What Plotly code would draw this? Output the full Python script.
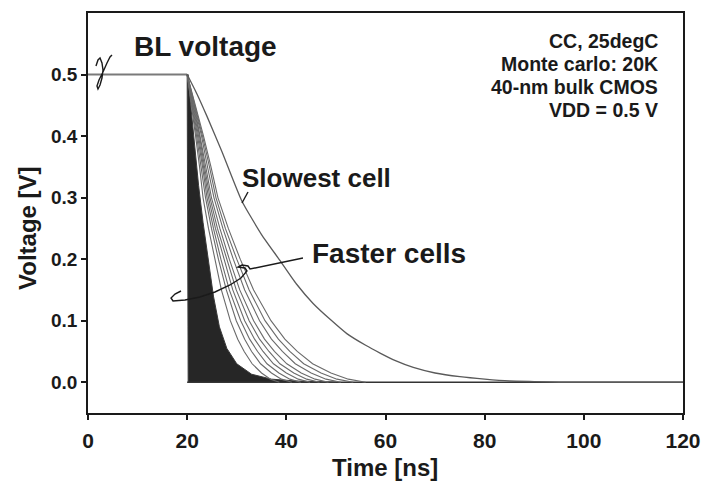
import plotly.graph_objects as go

# ---------------- data ----------------
bl_time = [0, 20]
bl_volt = [0.5, 0.5]

baseline_time = [20, 120]
baseline_volt = [0.0, 0.0]

slow_time = [20, 22, 24, 27, 31, 35, 38.7, 42, 45.4, 49, 52.2, 56, 59, 62, 65.6, 70, 75, 80, 85, 90, 95, 120]
slow_volt = [0.5, 0.468, 0.432, 0.375, 0.295, 0.24, 0.198, 0.16, 0.128, 0.101, 0.079, 0.060,
             0.047, 0.035, 0.024, 0.015, 0.009, 0.005, 0.002, 0.001, 0.0, 0.0]

fast_levels = [0.5, 0.45, 0.4, 0.35, 0.3, 0.25, 0.2, 0.15, 0.1, 0.07, 0.05, 0.03, 0.015, 0.005, 0.0]
fast_cell_1 = [20, 20.9, 21.7, 22.5, 23.2, 24.3, 25.6, 26.9, 28.7, 30.2, 31.5, 33.1, 35.0, 36.8, 38.6]
fast_cell_2 = [20, 21.0, 21.9, 22.8, 23.7, 24.9, 26.3, 27.9, 29.9, 31.6, 33.0, 34.8, 37.0, 39.0, 41.1]
fast_cell_3 = [20, 21.1, 22.1, 23.1, 24.0, 25.3, 26.8, 28.5, 30.8, 32.6, 34.2, 36.1, 38.5, 40.7, 42.9]
fast_cell_4 = [20, 21.2, 22.3, 23.3, 24.3, 25.7, 27.4, 29.2, 31.6, 33.6, 35.3, 37.4, 40.0, 42.4, 44.8]
fast_cell_5 = [20, 21.3, 22.5, 23.5, 24.6, 26.1, 28.0, 29.9, 32.5, 34.6, 36.5, 38.7, 41.5, 44.1, 46.7]
fast_cell_6 = [20, 21.4, 22.6, 23.8, 24.9, 26.6, 28.5, 30.6, 33.4, 35.6, 37.6, 40.1, 43.0, 45.8, 48.5]
fast_cell_7 = [20, 21.5, 22.9, 24.1, 25.4, 27.2, 29.3, 31.6, 34.6, 37.0, 39.2, 41.8, 45.0, 48.0, 51.0]
fast_cell_8 = [20, 21.6, 23.1, 24.5, 25.8, 27.7, 30.0, 32.5, 35.7, 38.4, 40.7, 43.5, 47.0, 50.2, 53.5]
fast_cell_9 = [20, 21.7, 23.3, 24.8, 26.2, 28.3, 30.7, 33.4, 36.9, 39.7, 42.2, 45.3, 49.0, 52.5, 56.0]

# outline of the dense black bundle of Monte Carlo curves
bundle_time = [20.0, 20.2, 20.6, 21.5, 22.3, 23.2, 24.2, 25.3, 26.5, 28, 30, 33, 37, 42, 50, 20.2, 20.0]
bundle_volt = [0.5, 0.5, 0.46, 0.38, 0.32, 0.26, 0.20, 0.14, 0.09, 0.055, 0.03, 0.013, 0.005, 0.002, 0.0, 0.0, 0.5]

x_ticks = [0, 20, 40, 60, 80, 100, 120]
y_ticks = [0.0, 0.1, 0.2, 0.3, 0.4, 0.5]

# ---------------- figure ----------------
FONT = "Liberation Sans, Arial, sans-serif"
INK = "#1a1a1a"
fig = go.Figure()

fig.add_trace(go.Scatter(x=baseline_time, y=baseline_volt, mode="lines",
                         line=dict(color="#333333", width=1.6), hoverinfo="skip"))
fig.add_trace(go.Scatter(x=bl_time, y=bl_volt, mode="lines",
                         line=dict(color="#7a7a7a", width=2), hoverinfo="skip"))
fig.add_trace(go.Scatter(x=bundle_time, y=bundle_volt, mode="lines", fill="toself",
                         fillcolor="#262626", line=dict(color="#3a3a3a", width=1),
                         hoverinfo="skip"))
for t in [fast_cell_1, fast_cell_2, fast_cell_3, fast_cell_4, fast_cell_5,
          fast_cell_6, fast_cell_7, fast_cell_8, fast_cell_9]:
    fig.add_trace(go.Scatter(x=t, y=fast_levels, mode="lines",
                             line=dict(color="#6a6a6a", width=1.1),
                             hoverinfo="skip"))
fig.add_trace(go.Scatter(x=slow_time, y=slow_volt, mode="lines",
                         line=dict(color="#5a5a5a", width=1.3, shape="spline", smoothing=0.5),
                         hoverinfo="skip"))

# ---------------- decorations (pixel -> paper) ----------------
L, R, T, B = 88, 683, 13, 413
def px(x, y):
    return (x - L) / (R - L), (B - y) / (B - T)

def path_from(points):
    s = ""
    for i, (x, y) in enumerate(points):
        a, b = px(x, y)
        s += ("M" if i == 0 else "L") + f"{a:.4f},{b:.4f} "
    return s

squiggle_bl = [(96, 66), (98, 60), (100, 58), (102, 63), (103, 70), (102, 78), (100, 85), (98, 89),
               (97, 86), (99, 80), (103, 72), (107, 63), (110, 57), (112, 55)]
pointer_fast = [(303, 258), (250, 269), (248, 266), (242, 265), (238, 267), (245, 268), (247, 271),
                (241, 278), (230, 285), (215, 292), (200, 297), (185, 300), (173, 301), (171, 298),
                (175, 294), (181, 291)]
pointer_slow = [(248, 192), (242, 203)]

for pts in [squiggle_bl, pointer_fast, pointer_slow]:
    fig.add_shape(type="path", path=path_from(pts), xref="paper", yref="paper",
                  line=dict(color=INK, width=1.4))

def label(x, y, text, size, anchor="center", angle=0):
    a, b = px(x, y)
    fig.add_annotation(x=a, y=b, xref="paper", yref="paper", text=text, showarrow=False,
                       xanchor=anchor, yanchor="middle", textangle=angle,
                       font=dict(family=FONT, size=size, color=INK, weight="bold"))

label(205, 47, "BL voltage", 28)
label(316, 178, "Slowest cell", 26)
label(389, 253, "Faster cells", 28)
label(660, 41, "CC, 25degC", 19.5, "right")
label(660, 64, "Monte carlo: 20K", 19.5, "right")
label(660, 87, "40-nm bulk CMOS", 19.5, "right")
label(660, 110, "VDD = 0.5 V", 19.5, "right")
# axis titles
label(385, 467, "Time [ns]", 24)
label(27, 228, "Voltage [V]", 24, angle=-90)

axis_common = dict(showline=True, linecolor=INK, linewidth=1.5, mirror=True,
                   ticks="outside", ticklen=5, tickwidth=1.5, tickcolor=INK,
                   showgrid=False, zeroline=False, automargin=False)

fig.update_layout(
    width=702, height=482,
    margin=dict(l=L, r=702 - R, t=T, b=482 - B),
    paper_bgcolor="white", plot_bgcolor="white",
    showlegend=False,
    xaxis=dict(range=[0, 120], tickvals=x_ticks, ticktext=[str(v) for v in x_ticks],
               tickfont=dict(family=FONT, size=21, color=INK, weight="bold"),
               ticklabelstandoff=3,
               **axis_common),
    yaxis=dict(range=[-0.05, 0.6], tickvals=y_ticks, ticktext=[f"{v:.1f}" for v in y_ticks],
               tickfont=dict(family=FONT, size=19, color=INK, weight="bold"),
               **axis_common),
)

fig.write_html("out.html")
